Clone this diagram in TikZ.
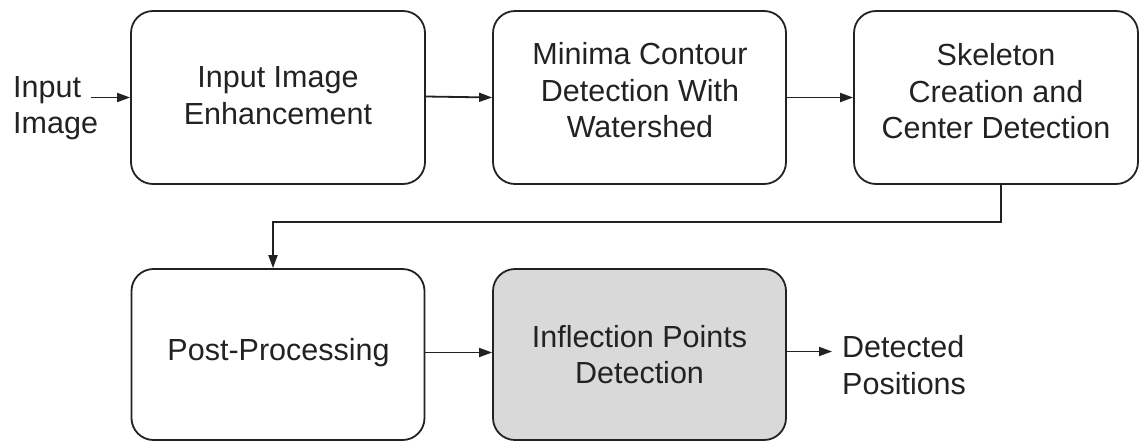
\documentclass[tikz,border=0pt]{standalone}
\usepackage{fontspec}
\setmainfont{Liberation Sans}
\usetikzlibrary{arrows.meta,calc}
\definecolor{ink}{RGB}{34,34,34}
\definecolor{boxgray}{RGB}{217,217,217}
\tikzset{
  stagebox/.style={draw=ink, line width=1.8pt, rounded corners=22pt, inner sep=0pt},
  lbl/.style={align=center, text=ink, inner sep=0pt, font=\fontsize{30.5}{36.5}\selectfont},
  arr/.style={draw=ink, line width=1.8pt, -{Triangle[length=13pt,width=9pt]}},
}
\begin{document}
\begin{tikzpicture}[x=1pt,y=-1pt]
\useasboundingbox (0,0) rectangle (1139,440);
\node[stagebox, minimum width=294pt, minimum height=173pt] (b1) at (278,97.5) {};
\node[stagebox, minimum width=293pt, minimum height=173pt] (b2) at (639.5,97.5) {};
\node[stagebox, minimum width=284pt, minimum height=173pt] (b3) at (996,97.5) {};
\node[stagebox, minimum width=293pt, minimum height=171pt] (b4) at (278,354.5) {};
\node[stagebox, fill=boxgray, minimum width=293pt, minimum height=171pt] (b5) at (639.5,354.5) {};
\node[lbl] (t1) at (278,95.5) {Input Image\\Enhancement};
\node[lbl] (t2) at (640,90.5) {Minima Contour\\Detection With\\Watershed};
\node[lbl] (t3) at (996,91.5) {Skeleton\\Creation and\\Center Detection};
\node[lbl] (t4) at (278.5,353) {Post-Processing};
\node[lbl] (t5) at (639.5,354.5) {Inflection Points\\Detection};
\node[lbl, align=left, anchor=west] (in) at (13,108) {Input\\Image};
\node[lbl, align=left, anchor=west] (det) at (842,365) {Detected\\Positions};
\coordinate (c1) at (1001,222);
\coordinate (c2) at (273,222);
\draw[arr] ([xshift=-7pt]in.east |- b1.west) -- (b1.west);
\draw[arr] ([yshift=1pt]b1.east) -- (b2.west);
\draw[arr] (b2.east) -- (b3.west);
\draw[arr] (b3.south -| c1) -- (c1) -- (c2) -- (b4.north -| c2);
\draw[arr] ([yshift=2pt]b4.east) -- ([yshift=2pt]b5.west);
\draw[arr] ([yshift=3pt]b5.east) -- ([xshift=-10pt,yshift=3pt]det.west |- b5.east);
\end{tikzpicture}
\end{document}
